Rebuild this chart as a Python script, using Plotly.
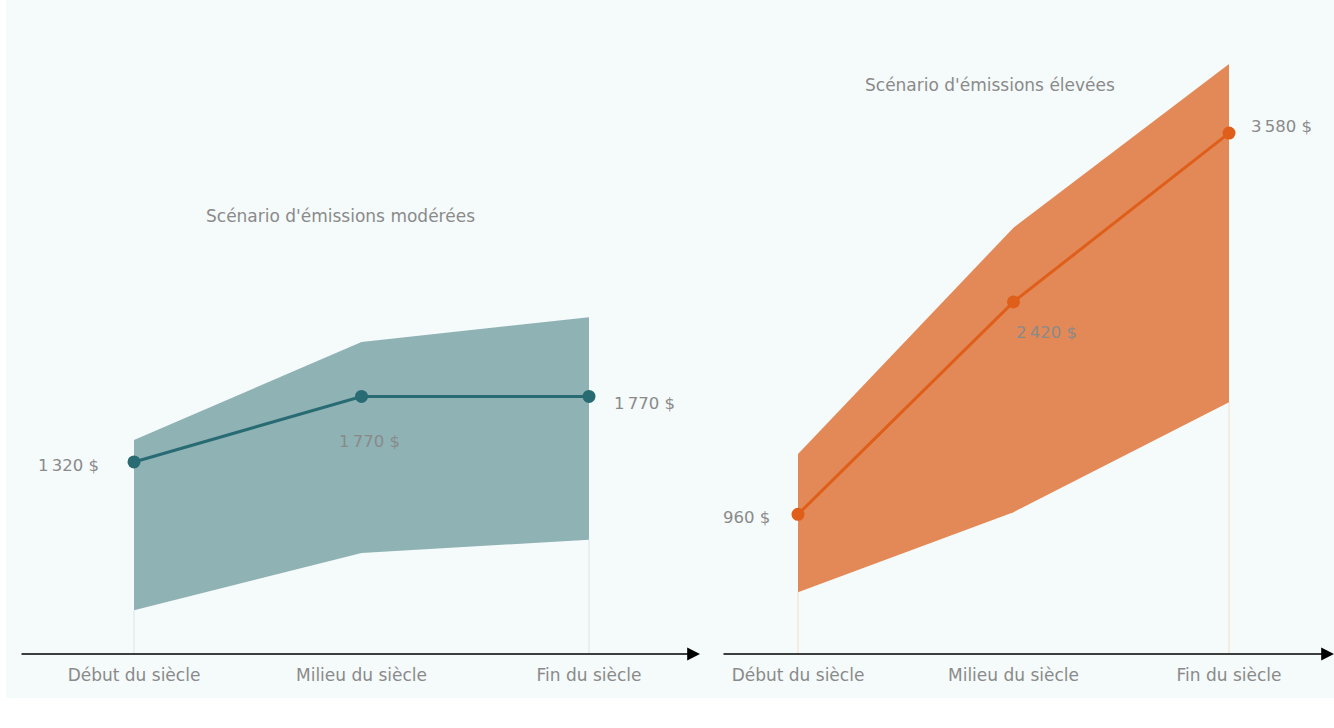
import plotly.graph_objects as go

# Periods along the horizontal axis
periods = ["Début du siècle", "Milieu du siècle", "Fin du siècle"]

# Moderate-emissions scenario ($): central estimate and range
moderate_mid = [1320, 1770, 1770]
moderate_low = [300, 695, 785]
moderate_high = [1470, 2145, 2315]

# High-emissions scenario ($): central estimate and range
high_mid = [960, 2420, 3580]
high_low = [425, 975, 1730]
high_high = [1375, 2930, 4055]

scenario_titles = ["Scénario d'émissions modérées", "Scénario d'émissions élevées"]

W, H = 1334, 728
FONT = "DejaVu Sans"
GRAY = "#8a8a8a"
BG = "#f5fafa"

TEAL_LINE = "#286b73"
TEAL_BAND = "#8fb2b5"
TEAL_DROP = "#d9e7e8"
ORANGE_LINE = "#df5e1a"
ORANGE_BAND = "#e38957"
ORANGE_DROP = "#f6dccb"

x_idx = [0, 1, 2]


def fmt(v):
    s = f"{v:,}".replace(",", "\u202f")
    return f"{s} $"


fig = go.Figure()

panels = [
    dict(xa="x", ya="y", mid=moderate_mid, low=moderate_low, high=moderate_high,
         line=TEAL_LINE, band=TEAL_BAND, drop=TEAL_DROP),
    dict(xa="x2", ya="y2", mid=high_mid, low=high_low, high=high_high,
         line=ORANGE_LINE, band=ORANGE_BAND, drop=ORANGE_DROP),
]

for p in panels:
    # thin drop lines from the baseline up to the band at both ends
    for i in (x_idx[0], x_idx[-1]):
        fig.add_trace(go.Scatter(x=[i, i], y=[0, p["low"][i]], mode="lines",
                                 line=dict(color=p["drop"], width=1),
                                 xaxis=p["xa"], yaxis=p["ya"], hoverinfo="skip",
                                 showlegend=False))
    # uncertainty band
    fig.add_trace(go.Scatter(x=x_idx + x_idx[::-1], y=p["high"] + p["low"][::-1],
                             fill="toself", fillcolor=p["band"], mode="none",
                             xaxis=p["xa"], yaxis=p["ya"], hoverinfo="skip",
                             showlegend=False))
    # central estimate
    fig.add_trace(go.Scatter(x=x_idx, y=p["mid"], mode="lines+markers",
                             line=dict(color=p["line"], width=3),
                             marker=dict(color=p["line"], size=13),
                             xaxis=p["xa"], yaxis=p["ya"], showlegend=False))

# pixel geometry of the two panels
BASE_PX = 654
left_dom = [20 / W, 700 / W]
right_dom = [722 / W, 1.0]
left_range = [-(134 - 20) / 227.5, 2 + (700 - 589) / 227.5]
right_range = [-(798 - 722) / 215.5, 2 + (1334 - 1229) / 215.5]
px_per_unit = 0.1455
y_range = [-(H - BASE_PX) / px_per_unit, BASE_PX / px_per_unit]
axis_pos = (H - BASE_PX) / H

xaxis_common = dict(tickmode="array", tickvals=x_idx, ticktext=periods,
                    showgrid=False, zeroline=False, showline=False,
                    ticks="outside", ticklen=6, tickcolor="rgba(0,0,0,0)",
                    tickfont=dict(family=FONT, size=17, color=GRAY),
                    automargin=False, anchor="free", position=axis_pos,
                    fixedrange=True)
yaxis_common = dict(range=y_range, domain=[0, 1], visible=False,
                    showgrid=False, zeroline=False, fixedrange=True,
                    automargin=False)

fig.update_layout(
    width=W, height=H,
    margin=dict(l=0, r=0, t=0, b=0, autoexpand=False),
    paper_bgcolor="white",
    plot_bgcolor="rgba(0,0,0,0)",
    xaxis=dict(domain=left_dom, range=left_range, **xaxis_common),
    yaxis=dict(anchor="x", **yaxis_common),
    xaxis2=dict(domain=right_dom, range=right_range, **xaxis_common),
    yaxis2=dict(anchor="x2", **yaxis_common),
    font=dict(family=FONT, color=GRAY),
)

# light panel background
fig.add_shape(type="rect", xref="paper", yref="paper",
              x0=6 / W, x1=1.0, y0=1 - 698 / H, y1=1.0,
              fillcolor=BG, line=dict(width=0), layer="below")

# horizontal axes drawn as arrows
for xa, ya, rng in [("x", "y", left_range), ("x2", "y2", right_range)]:
    fig.add_annotation(x=rng[1], y=0, ax=rng[0], ay=0,
                       xref=xa, yref=ya, axref=xa, ayref=ya,
                       text="", showarrow=True, arrowhead=2, arrowsize=1.6,
                       arrowwidth=1.6, arrowcolor="black")

# value labels
label_pos = [
    # (xref, yref, index, value, xanchor, xshift, yshift)
    ("x", "y", 0, moderate_mid[0], "right", -33, -4),
    ("x", "y", 1, moderate_mid[1], "center", 8, -45),
    ("x", "y", 2, moderate_mid[2], "left", 23, -7),
    ("x2", "y2", 0, high_mid[0], "right", -26, -3),
    ("x2", "y2", 1, high_mid[1], "center", 33, -31),
    ("x2", "y2", 2, high_mid[2], "left", 20, 7),
]
for xa, ya, i, v, anchor, xs, ys in label_pos:
    fig.add_annotation(x=i, y=v, xref=xa, yref=ya, text=fmt(v), showarrow=False,
                       xanchor=anchor, yanchor="middle", xshift=xs, yshift=ys,
                       font=dict(family=FONT, size=16.5, color=GRAY))

# scenario titles
fig.add_annotation(x=340 / W, y=1 - 216 / H, xref="paper", yref="paper",
                   text=scenario_titles[0], showarrow=False,
                   xanchor="center", yanchor="middle",
                   font=dict(family=FONT, size=17, color=GRAY))
fig.add_annotation(x=990 / W, y=1 - 85 / H, xref="paper", yref="paper",
                   text=scenario_titles[1], showarrow=False,
                   xanchor="center", yanchor="middle",
                   font=dict(family=FONT, size=17, color=GRAY))

fig.write_html("out.html")
